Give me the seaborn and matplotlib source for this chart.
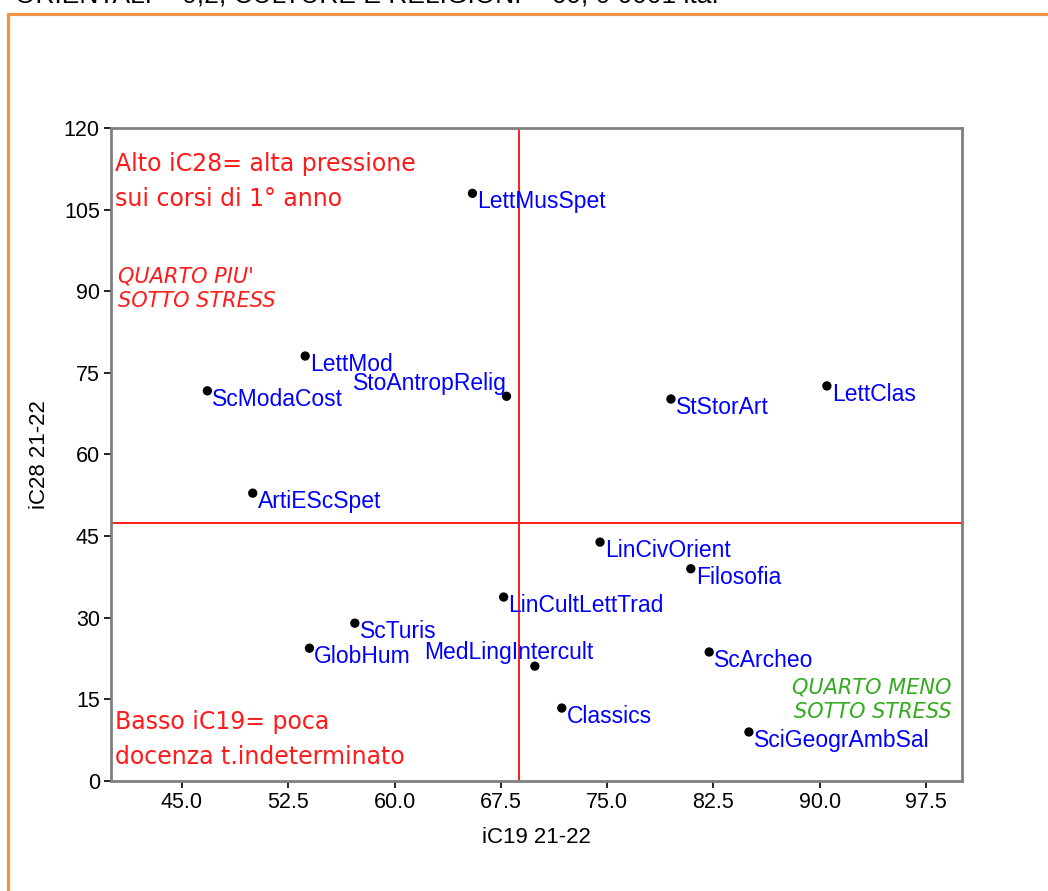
"""
Scatter iC19 vs iC28 (21-22) per corso di laurea, con i quadranti evidenziati.
"""

import matplotlib
matplotlib.use("Agg")
import matplotlib.pyplot as plt
from matplotlib.lines import Line2D
import pandas as pd
import seaborn as sns

# dati
corsi = [
    "LettMusSpet", "LettMod", "ScModaCost", "StoAntropRelig", "StStorArt",
    "LettClas", "ArtiEScSpet", "LinCivOrient", "Filosofia", "LinCultLettTrad",
    "ScTuris", "GlobHum", "MedLingIntercult", "ScArcheo", "Classics",
    "SciGeogrAmbSal",
]
ic19 = [65.5, 53.7, 46.8, 67.9, 79.5, 90.5, 50.0, 74.5, 80.9, 67.7,
        57.2, 54.0, 69.9, 82.2, 71.8, 85.0]
ic28 = [108.0, 78.1, 71.7, 70.7, 70.2, 72.6, 52.9, 43.9, 39.0, 33.8,
        29.0, 24.4, 21.1, 23.7, 13.4, 9.0]

# soglie dei quadranti
soglia_x = 68.8
soglia_y = 47.5

x_ticks = [45.0, 52.5, 60.0, 67.5, 75.0, 82.5, 90.0, 97.5]
y_ticks = [0, 15, 30, 45, 60, 75, 90, 105, 120]

# etichette con posizione diversa (sopra/sinistra del punto)
label_offsets = {
    "StoAntropRelig": ((0, 9.5), "right"),
    "MedLingIntercult": ((-19, 9.5), "center"),
}

RED = "#ff1a1a"
BLUE = "#0000ff"
GREEN = "#33aa1f"

sns.set_style("white")
plt.rcParams["font.family"] = ["Liberation Sans", "DejaVu Sans"]
plt.rcParams["text.color"] = "black"
plt.rcParams["axes.labelcolor"] = "black"

df = pd.DataFrame({"corso": corsi, "iC19": ic19, "iC28": ic28})

fig = plt.figure(figsize=(10.48, 8.91), dpi=100)
ax = fig.add_axes([0.1059, 0.1235, 0.8116, 0.7328])

# cornice arancione e titolo tagliato in alto
fig.add_artist(Line2D([8 / 1048, 8 / 1048], [0, 1 - 14 / 891], color="#f39240", lw=2.3))
fig.add_artist(Line2D([8 / 1048, 1], [1 - 14 / 891, 1 - 14 / 891], color="#f39240", lw=2.3))
fig.text(15 / 1048, 1 + 4 / 891, "ORIENTALI = 0,2; CULTURE E RELIGIONI = 60, 0 0001 ita.",
         fontsize=19, color="black", va="center", ha="left")

ax.axvline(soglia_x, color=RED, lw=1.4, zorder=1)
ax.axhline(soglia_y, color=RED, lw=1.4, zorder=1)

sns.scatterplot(data=df, x="iC19", y="iC28", color="black", s=45,
                edgecolor="none", ax=ax, zorder=3)

for nome, xv, yv in zip(corsi, ic19, ic28):
    off, ha = label_offsets.get(nome, ((3.5, -6), "left"))
    ax.annotate(nome, (xv, yv), xytext=off, textcoords="offset points",
                ha=ha, va="center", color=BLUE, fontsize=16.5, zorder=4)

# testi dei quadranti
ax.text(40.3, 110.2, "Alto iC28= alta pressione\nsui corsi di 1° anno",
        color=RED, fontsize=17, family="DejaVu Sans", va="center", ha="left",
        linespacing=1.6)
ax.text(40.5, 90.4, "QUARTO PIU'\nSOTTO STRESS", color=RED, fontsize=15,
        family="DejaVu Sans", style="italic", weight="medium", va="center",
        ha="left", linespacing=1.3)
ax.text(40.3, 7.6, "Basso iC19= poca\ndocenza t.indeterminato",
        color=RED, fontsize=17, family="DejaVu Sans", va="center", ha="left",
        linespacing=1.6)
ax.text(99.3, 14.9, "QUARTO MENO\nSOTTO STRESS", color=GREEN, fontsize=15,
        family="DejaVu Sans", style="italic", weight="medium", va="center",
        ha="right", linespacing=1.3)

ax.set_xlim(40, 100)
ax.set_ylim(0, 120)
ax.set_xticks(x_ticks)
ax.set_xticklabels([f"{t:.1f}" for t in x_ticks])
ax.set_yticks(y_ticks)
ax.set_yticklabels([str(t) for t in y_ticks])
ax.tick_params(axis="both", direction="out", length=5, width=1.2,
               color="black", labelcolor="black", labelsize=15.5, pad=3,
               bottom=True, left=True)

for spine in ax.spines.values():
    spine.set_visible(True)
    spine.set_color("#7f7f7f")
    spine.set_linewidth(2)

ax.set_xlabel("iC19 21-22", fontsize=16, labelpad=10)
ax.set_ylabel("iC28 21-22", fontsize=16, labelpad=10)

fig.savefig("out.png", dpi=100)
